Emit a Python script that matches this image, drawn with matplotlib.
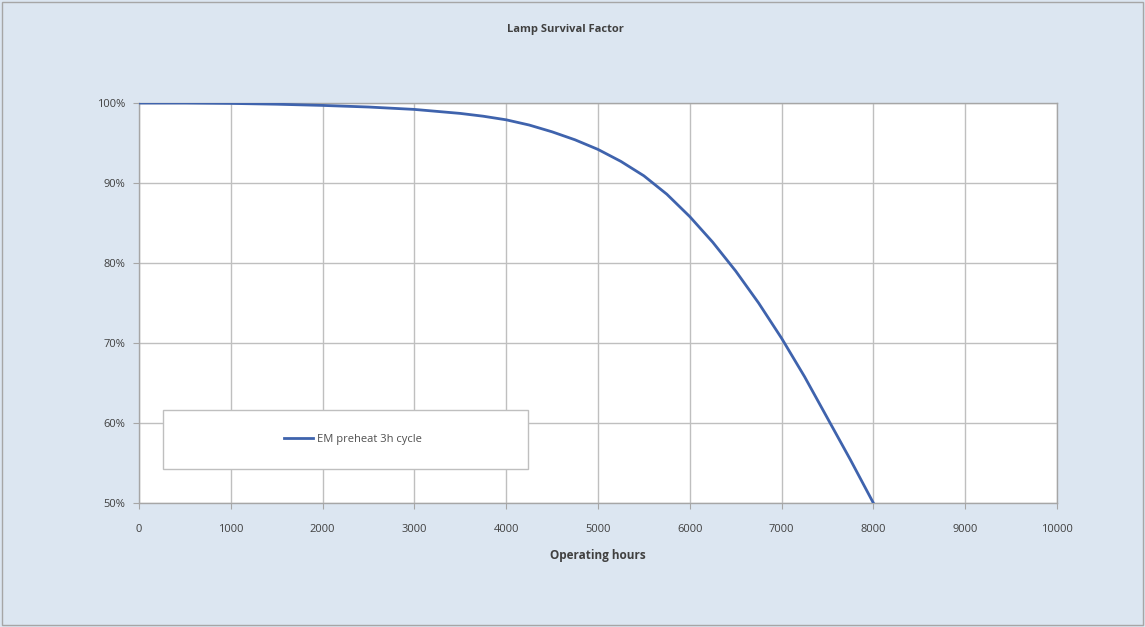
import matplotlib
matplotlib.use("Agg")
import matplotlib.pyplot as plt
from matplotlib.patches import Rectangle
from matplotlib.ticker import FuncFormatter

hours = [0, 500, 1000, 1500, 2000, 2500, 3000, 3500, 3750, 4000, 4250, 4500, 4750, 5000,
         5250, 5500, 5750, 6000, 6250, 6500, 6750, 7000, 7250, 7500, 7750, 8000]
survival = [100.0, 100.0, 99.95, 99.85, 99.7, 99.5, 99.2, 98.7, 98.35, 97.9, 97.25, 96.4, 95.4, 94.2,
            92.7, 90.9, 88.6, 85.8, 82.6, 79.0, 75.0, 70.6, 65.8, 60.6, 55.4, 50.0]
series_label = "EM preheat 3h cycle"
title = "Lamp Survival Factor"
xlabel = "Operating hours"
xticks = list(range(0, 10001, 1000))
yticks = [50, 60, 70, 80, 90, 100]

plt.rcParams['font.family'] = ['Open Sans', 'DejaVu Sans']

fig = plt.figure(figsize=(11.45, 6.27), dpi=100)
fig.patch.set_facecolor('#dce6f1')
fig.patches.append(Rectangle((0.002, 0.003), 0.996, 0.994, transform=fig.transFigure,
                             fill=False, edgecolor='#a6a6a6', linewidth=1.0))

ax = fig.add_axes([0.1214, 0.1978, 0.8017, 0.6379])
ax.set_facecolor('white')
ax.plot(hours, survival, color='#3f63ad', linewidth=2.0, label=series_label, zorder=3,
        solid_joinstyle='round')

ax.set_xlim(0, 10000)
ax.set_ylim(50, 100)
ax.set_xticks(xticks)
ax.set_yticks(yticks)
ax.yaxis.set_major_formatter(FuncFormatter(lambda v, p: f"{int(v)}%"))
ax.grid(True, color='#bfbfbf', linewidth=1.0, zorder=0)
ax.set_axisbelow(True)
for s in ax.spines.values():
    s.set_color('#a6a6a6')
    s.set_linewidth(1.0)
ax.tick_params(axis='both', colors='#a6a6a6', labelcolor='#404040', labelsize=8, length=4,
               direction='out')
ax.tick_params(axis='x', pad=11)
ax.tick_params(axis='y', pad=6)
ax.set_xlabel(xlabel, fontsize=8.5, color='#404040', fontweight='bold', labelpad=10)
fig.text(0.494, 0.953, title, ha='center', va='center', fontsize=8, color='#404040',
         fontweight='bold')

# legend box
ax.add_patch(Rectangle((0.026, 0.085), 0.398, 0.1475, transform=ax.transAxes,
                       facecolor='white', edgecolor='#bfbfbf', linewidth=1.0, zorder=4))
leg = ax.legend(loc='center', bbox_to_anchor=(0.233, 0.158), frameon=False, fontsize=8,
                handlelength=2.6, handletextpad=0.4)
for t in leg.get_texts():
    t.set_color('#505050')
leg.set_zorder(5)

fig.savefig('out.png', dpi=100, facecolor=fig.get_facecolor())
